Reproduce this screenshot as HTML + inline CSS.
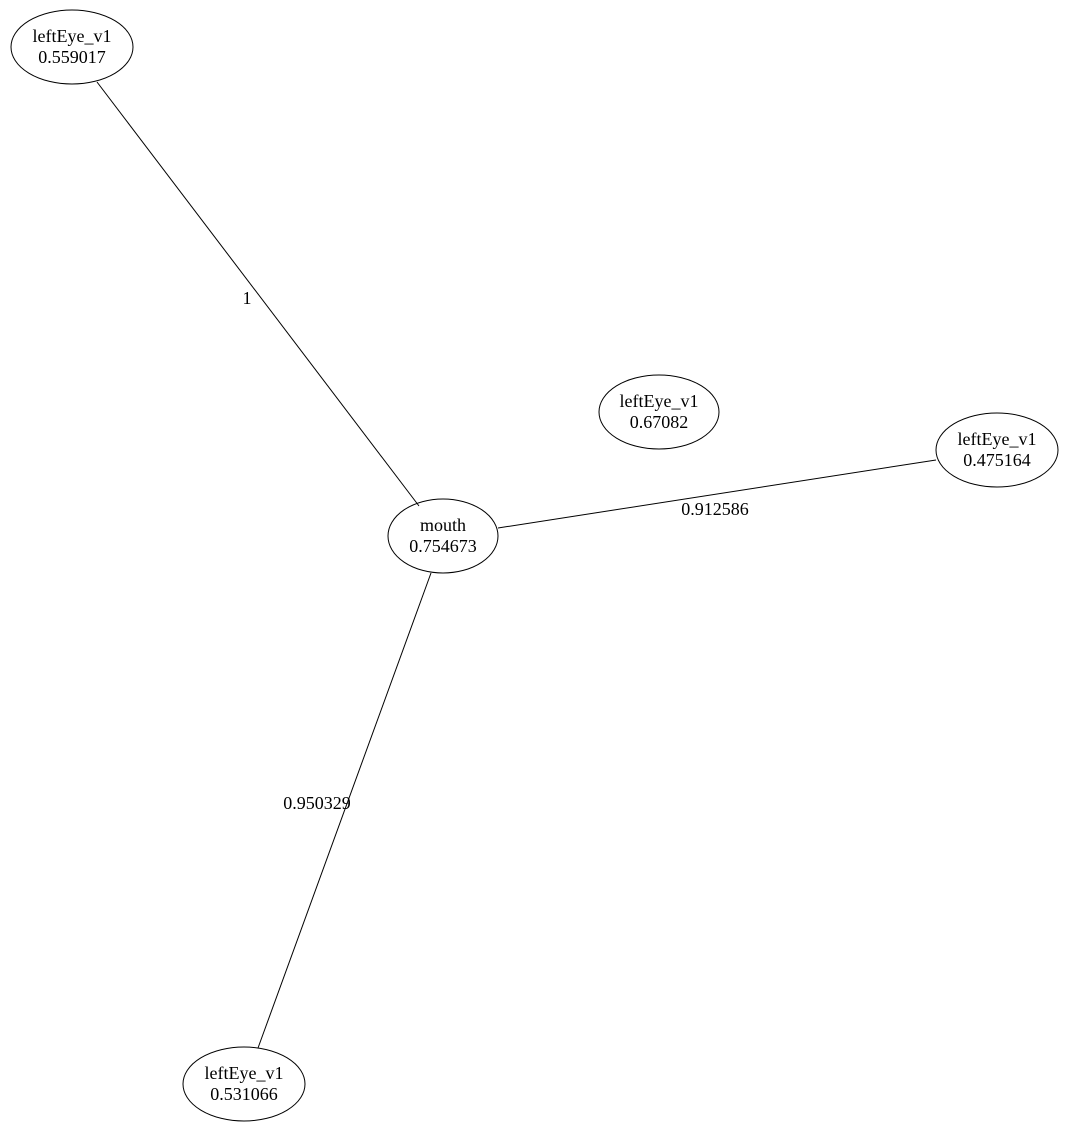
<!DOCTYPE html>
<html><head><meta charset="utf-8"><style>
html,body{margin:0;padding:0;background:#fff;}
svg{display:block;}
text{font-family:"Liberation Serif",serif;font-size:18px;fill:#000;}
</style></head><body>
<svg width="1068" height="1130" viewBox="0 0 1068 1130" xmlns="http://www.w3.org/2000/svg">
<g stroke="#000" stroke-width="1" fill="none">
<line x1="97" y1="82" x2="419" y2="506"/>
<line x1="498" y1="528" x2="936" y2="460"/>
<line x1="431" y1="573" x2="258" y2="1048"/>
<ellipse cx="72" cy="47" rx="61" ry="37"/>
<ellipse cx="659" cy="412" rx="60" ry="37"/>
<ellipse cx="997" cy="450" rx="61" ry="37"/>
<ellipse cx="443" cy="536" rx="55" ry="37"/>
<ellipse cx="244" cy="1084" rx="61" ry="37"/>
</g>
<g text-anchor="middle">
<text x="72" y="42">leftEye_v1</text><text x="72" y="63">0.559017</text>
<text x="659" y="407">leftEye_v1</text><text x="659" y="428">0.67082</text>
<text x="997" y="445">leftEye_v1</text><text x="997" y="466">0.475164</text>
<text x="443" y="531">mouth</text><text x="443" y="552">0.754673</text>
<text x="244" y="1079">leftEye_v1</text><text x="244" y="1100">0.531066</text>
<text x="247" y="304">1</text>
<text x="715" y="515">0.912586</text>
<text x="317" y="809">0.950329</text>
</g>
</svg>
</body></html>
